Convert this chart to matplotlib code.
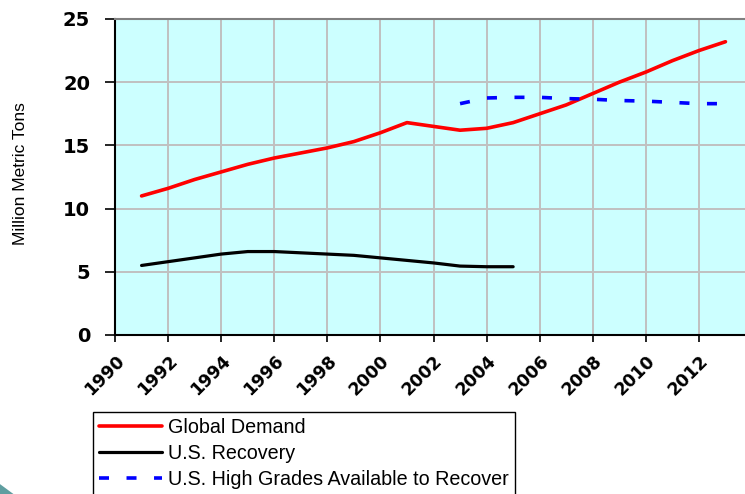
import matplotlib.pyplot as plt
import matplotlib.transforms as mtransforms
from matplotlib.patches import Polygon

# données (millions de tonnes)
annees_demande = [1991, 1992, 1993, 1994, 1995, 1996, 1997, 1998, 1999, 2000, 2001, 2002,
                  2003, 2004, 2005, 2006, 2007, 2008, 2009, 2010, 2011, 2012, 2013]
demande = [11.0, 11.6, 12.3, 12.9, 13.5, 14.0, 14.4, 14.8, 15.3, 16.0, 16.8, 16.5,
           16.2, 16.35, 16.8, 17.5, 18.2, 19.1, 20.0, 20.8, 21.7, 22.5, 23.2]

annees_recup = [1991, 1992, 1993, 1994, 1995, 1996, 1997, 1998, 1999, 2000, 2001, 2002, 2003, 2004, 2005]
recup = [5.5, 5.8, 6.1, 6.4, 6.6, 6.6, 6.5, 6.4, 6.3, 6.1, 5.9, 5.7, 5.45, 5.4, 5.4]

annees_dispo = [2003, 2004, 2005, 2006, 2007, 2008, 2009, 2010, 2011, 2012, 2013]
dispo = [18.3, 18.75, 18.8, 18.8, 18.7, 18.65, 18.55, 18.5, 18.4, 18.3, 18.3]

etiquettes_x = [str(a) for a in range(1990, 2014, 2)]

fig = plt.figure(figsize=(7.45, 4.94), dpi=100)
ax = fig.add_axes([0.1544, 0.3219, 0.855, 0.6397])
ax.set_facecolor('#CCFFFF')

ax.plot(annees_demande, demande, color='#FF0000', lw=2.6, label='Global Demand', solid_capstyle='round')
ax.plot(annees_recup, recup, color='black', lw=2.3, label='U.S. Recovery', solid_capstyle='round')
ax.plot(annees_dispo, dispo, color='#0000FF', lw=2.6, dashes=(2.77, 4.85),
        label='U.S. High Grades Available to Recover')

ax.set_xlim(1990, 2014)
ax.set_ylim(0, 25)
ax.set_yticks(range(0, 26, 5))
ax.set_xticks(range(1990, 2014, 2))
ax.set_xticklabels(etiquettes_x, rotation=45, ha='right', rotation_mode='anchor',
                   fontsize=12.5, fontweight='bold', family='DejaVu Sans')
# décalage des étiquettes vers la gauche
decal = mtransforms.ScaledTranslation(-5 / 100, 0, fig.dpi_scale_trans)
for lab in ax.get_xticklabels():
    lab.set_transform(lab.get_transform() + decal)
for lab in ax.get_yticklabels():
    lab.set_fontsize(14)
    lab.set_fontweight('bold')
    lab.set_family('DejaVu Sans')

ax.grid(True, color='#C0C0C0', lw=1.4)
ax.set_axisbelow(True)
ax.tick_params(axis='y', direction='out', length=7, width=1.2, pad=11)
ax.tick_params(axis='x', direction='out', length=5, width=1.2, pad=7)
ax.spines['left'].set_linewidth(1.5)
ax.spines['bottom'].set_linewidth(1.5)
ax.spines['top'].set_color('#808080')
ax.spines['top'].set_linewidth(1.5)
ax.spines['right'].set_visible(False)

fig.text(0.027, 0.648, 'Million Metric Tons', rotation=90, ha='center', va='center',
         fontsize=12.5, family='Liberation Sans')

leg = fig.legend(loc='upper left', bbox_to_anchor=(0.1248, 0.166), frameon=True, fancybox=False,
                 edgecolor='black', framealpha=1, borderaxespad=0, borderpad=0.3,
                 handlelength=3.2, handletextpad=0.3, labelspacing=0.36,
                 prop={'family': 'Liberation Sans', 'size': 14.2})
leg.get_frame().set_linewidth(1.0)

# petit motif décoratif en bas à gauche
fig.patches.append(Polygon([[0, 0.02], [0.018, 0], [0, 0]], closed=True,
                           transform=fig.transFigure, facecolor='#5F9EA0', edgecolor='none'))

fig.savefig('out.png', dpi=100)
